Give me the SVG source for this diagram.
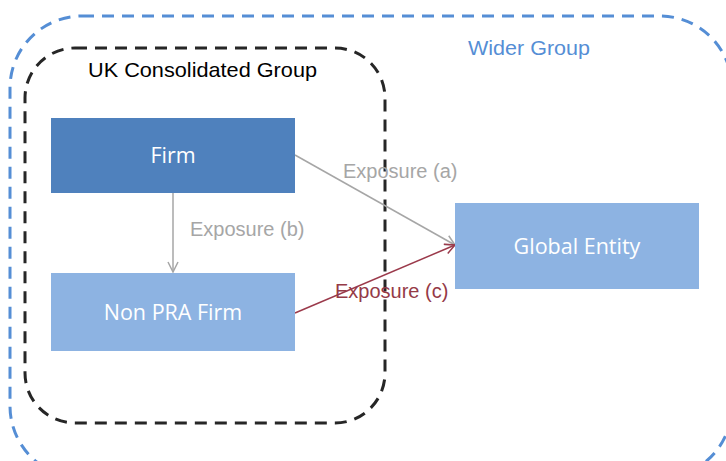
<svg xmlns="http://www.w3.org/2000/svg" width="726" height="461" viewBox="0 0 726 461">
<style>
.lbl{font-family:"Liberation Sans",Arial,sans-serif;}
.node{font-family:"Open Sans","Liberation Sans",sans-serif;font-size:21.5px;fill:#fff;text-anchor:middle;}
.exp{font-family:"Liberation Sans",Arial,sans-serif;font-size:20px;}
</style>
<defs>
<marker id="ag" viewBox="0 0 12 12" refX="11" refY="6" markerWidth="12" markerHeight="12" markerUnits="userSpaceOnUse" orient="auto">
<path d="M1,1 L11,6 L1,11" fill="none" stroke="#A6A6A6" stroke-width="1.5"/>
</marker>
<marker id="ar" viewBox="0 0 12 12" refX="11" refY="6" markerWidth="12" markerHeight="12" markerUnits="userSpaceOnUse" orient="auto">
<path d="M1,1 L11,6 L1,11" fill="none" stroke="#9B3A4B" stroke-width="1.5"/>
</marker>
</defs>
<rect width="726" height="461" fill="#fff"/>
<g id="wider-group">
<rect x="10" y="16" width="722" height="462" rx="72" fill="none" stroke="#558ED5" stroke-width="3" stroke-dasharray="12,8"/>
<text class="lbl" x="468" y="55" font-size="21" fill="#558ED5" textLength="122" lengthAdjust="spacingAndGlyphs">Wider Group</text>
</g>
<g id="uk-group">
<rect x="25" y="48" width="360" height="375" rx="50" fill="none" stroke="#262626" stroke-width="3" stroke-dasharray="12,8"/>
<text class="lbl" x="88" y="77" font-size="21" fill="#000" textLength="229" lengthAdjust="spacingAndGlyphs">UK Consolidated Group</text>
</g>
<g id="connectors">
<line x1="295" y1="155" x2="455" y2="245" stroke="#A6A6A6" stroke-width="1.5" marker-end="url(#ag)"/>
<line x1="173" y1="193" x2="173" y2="272" stroke="#A6A6A6" stroke-width="1.5" marker-end="url(#ag)"/>
<line x1="295" y1="313" x2="455" y2="245" stroke="#9B3A4B" stroke-width="1.5" marker-end="url(#ar)"/>
<text class="exp" x="343" y="178" fill="#A6A6A6">Exposure (a)</text>
<text class="exp" x="190" y="236" fill="#A6A6A6">Exposure (b)</text>
<text class="exp" x="335" y="298" fill="#953A47">Exposure (c)</text>
</g>
<g id="firm">
<rect x="51" y="118" width="244" height="75" fill="#4F81BD"/>
<text class="node" x="173" y="163">Firm</text>
</g>
<g id="non-pra-firm">
<rect x="51" y="273" width="244" height="78" fill="#8DB3E2"/>
<text class="node" x="173" y="320">Non PRA Firm</text>
</g>
<g id="global-entity">
<rect x="455" y="203" width="244" height="86" fill="#8DB3E2"/>
<text class="node" x="577" y="254">Global Entity</text>
</g>
</svg>
